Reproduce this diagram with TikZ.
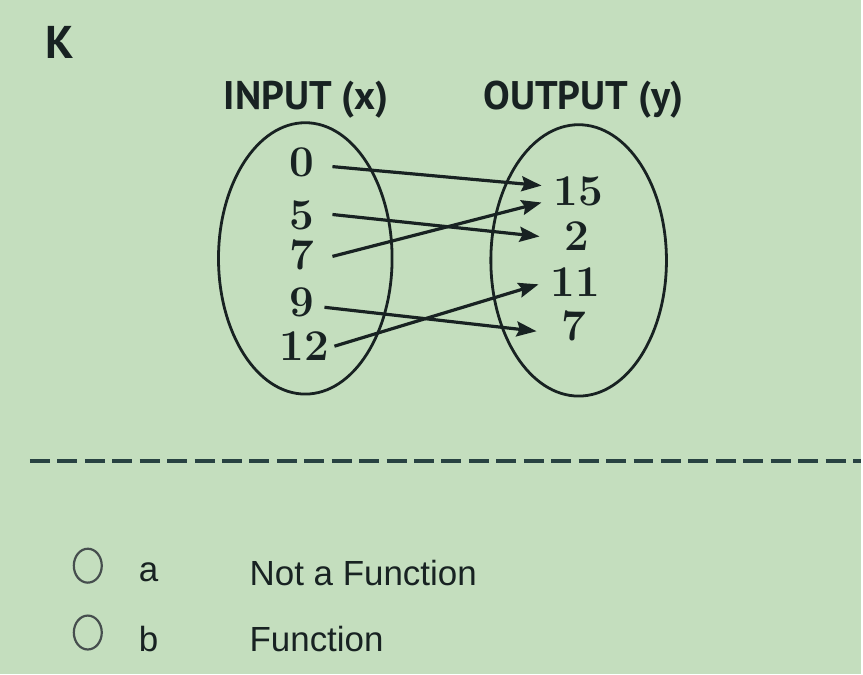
\documentclass[tikz,border=0pt]{standalone}
\usepackage{fontspec}
\usetikzlibrary{arrows.meta,shapes.geometric}
\newfontfamily\handfont{PT Sans}
\newfontfamily\uifont{Liberation Sans}
\definecolor{screen}{RGB}{196,222,190}
\definecolor{ink}{RGB}{24,34,34}
\definecolor{dashink}{RGB}{40,66,66}

\begin{document}
\begin{tikzpicture}[x=1pt,y=-1pt,
    innum/.style={inner sep=0pt,minimum width=60pt,text=ink,font=\bfseries\fontsize{44}{44}\selectfont},
    outnum/.style={inner sep=0pt,minimum width=74pt,text=ink,font=\bfseries\fontsize{44}{44}\selectfont},
    setoval/.style={draw=ink,ellipse,line width=2.8pt,inner sep=0pt},
    maparrow/.style={-{Stealth[length=20pt,width=15pt,inset=3pt]},line width=3.2pt,draw=ink},
    radio/.style={draw=ink!80,ellipse,line width=2.2pt,minimum width=28pt,minimum height=34pt,inner sep=0pt},
    choice/.style={anchor=west,inner sep=0pt,text=ink,font=\uifont\fontsize{35}{35}\selectfont}]
    %screen
    \fill [screen] (0,0) rectangle (863,676);
    %heading
    \node [text=ink,font=\handfont\bfseries\fontsize{46}{46}\selectfont] (qlabel) at (60,43) {K};
    \node [text=ink,font=\handfont\bfseries\fontsize{40}{40}\selectfont] (intitle) at (307,100) {INPUT (x)};
    \node [text=ink,font=\handfont\bfseries\fontsize{40}{40}\selectfont] (outtitle) at (585,100) {OUTPUT (y)};
    %domain
    \node [setoval,minimum width=174pt,minimum height=272pt] (inset) at (306,259) {};
    \node [innum] (in0) at (303,163) {0};
    \node [innum] (in5) at (303,216) {5};
    \node [innum] (in7) at (303,256) {7};
    \node [innum] (in9) at (303,303) {9};
    \node [innum] (in12) at (305,347) {12};
    %range
    \node [setoval,minimum width=176pt,minimum height=272pt] (outset) at (580,261) {};
    \node [outnum] (out15) at (580,192) {15};
    \node [outnum] (out2) at (578,237) {2};
    \node [outnum] (out11) at (577,283) {11};
    \node [outnum] (out7) at (575,327) {7};
    %mapping
    \draw [maparrow] ([yshift=-4pt]in0.east) -- ([yshift=6pt]out15.west);
    \draw [maparrow] ([yshift=1pt]in5.east) -- (out2.west);
    \draw [maparrow] ([yshift=-1pt]in7.east) -- ([yshift=-11pt]out15.west);
    \draw [maparrow] ([xshift=-8pt,yshift=-5pt]in9.east) -- ([yshift=-5pt]out7.west);
    \draw [maparrow] (in12.east) -- ([yshift=-2pt]out11.west);
    %separator
    \coordinate (sepstart) at (30,462);
    \coordinate (sepend) at (863,462);
    \draw [dashink,line width=4pt,dash pattern=on 20pt off 7.5pt] (sepstart) -- (sepend);
    %answers
    \node [radio] (opta) at (88,567) {};
    \node [choice] (keya) at (139,574) {a};
    \node [choice] (texta) at (250,574) {Not a Function};
    \node [radio] (optb) at (88,634) {};
    \node [choice] (keyb) at (139,640) {b};
    \node [choice] (textb) at (250,640) {Function};
\end{tikzpicture}
\end{document}
